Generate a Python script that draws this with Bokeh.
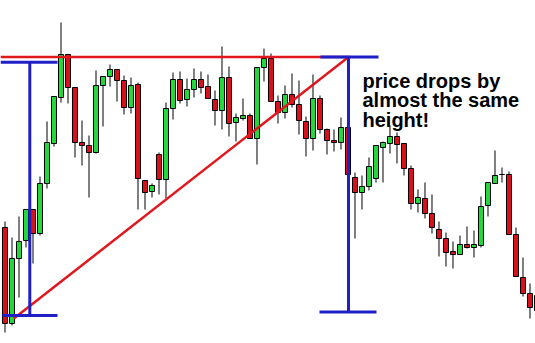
from bokeh.plotting import figure
from bokeh.models import Range1d, ColumnDataSource
from bokeh.core.properties import value
from bokeh.embed import file_html
from bokeh.resources import INLINE

# ---- candle data (price units) ----
opens = [116, 20, 85, 103, 134, 110, 160, 200, 246, 289, 256, 201, 198, 191, 258, 267, 274, 263, 236, 259,
         163, 152, 189, 164, 235, 264, 244, 254, 264, 257, 244, 233, 266, 221, 225, 228, 205, 276, 285, 242,
         231, 249, 239, 222, 205, 245, 214, 203, 201, 216, 166, 151, 157, 165, 196, 200, 207, 200, 175, 140,
         145, 130, 114, 105, 92, 89, 99, 96, 98, 138, 160, 169, 169, 109, 66, 50, 48]
closes = [20, 85, 102, 134, 110, 160, 201, 247, 289, 256, 201, 198, 191, 258, 267, 274, 263, 236, 258, 165,
          151, 158, 164, 235, 264, 243, 254, 264, 256, 245, 233, 266, 220, 226, 228, 205, 276, 285, 242, 231,
          249, 239, 223, 205, 245, 214, 203, 201, 216, 169, 151, 157, 177, 198, 201, 207, 199, 175, 140, 146,
          130, 116, 105, 91, 89, 99, 96, 99, 137, 161, 168, 169, 109, 67, 50, 36, 33]
highs = [122, 106, 127, 134, 134, 167, 222, 247, 321, 289, 256, 223, 208, 273, 267, 279, 274, 268, 266, 261,
         163, 160, 191, 241, 271, 272, 265, 275, 272, 269, 253, 297, 277, 230, 245, 230, 276, 295, 290, 248,
         258, 270, 263, 227, 269, 248, 215, 214, 226, 216, 171, 168, 186, 198, 202, 218, 211, 200, 178, 154,
         161, 149, 122, 111, 102, 108, 117, 113, 147, 161, 193, 176, 172, 116, 86, 60, 99]
lows = [11, 18, 46, 96, 80, 108, 155, 197, 241, 240, 186, 178, 146, 190, 217, 257, 242, 229, 230, 134,
        134, 146, 149, 145, 224, 240, 237, 246, 250, 245, 218, 214, 207, 202, 223, 205, 179, 262, 242, 220,
        225, 236, 209, 187, 193, 210, 189, 192, 194, 151, 105, 134, 153, 161, 161, 190, 180, 168, 134, 131,
        125, 110, 87, 77, 75, 89, 95, 86, 96, 127, 160, 161, 109, 67, 47, 25, 23]

idx = list(range(len(opens)))
up = [c >= o for o, c in zip(opens, closes)]

GREEN = "#22d83a"
RED = "#d8101c"
BLUE = "#1f1fc8"
LINE_RED = "#e0181e"

src = ColumnDataSource(dict(
    x=idx,
    top=[max(o, c) for o, c in zip(opens, closes)],
    bottom=[min(o, c) for o, c in zip(opens, closes)],
    high=highs, low=lows,
    color=[GREEN if u else RED for u in up],
))

# ---- annotation levels ----
resistance = 286.5
label_lines = ["price drops by", "almost the same", "height!"]

p = figure(width=535, height=343, output_backend="svg", toolbar_location=None,
           x_range=Range1d(-0.643, 75.786), y_range=Range1d(0, 343),
           min_border=0, outline_line_color=None, background_fill_color="white",
           border_fill_color="white")
p.axis.visible = False
p.grid.visible = False

p.segment(x0="x", y0="low", x1="x", y1="high", source=src, line_color="black", line_width=1)
p.vbar(x="x", top="top", bottom="bottom", width=0.72, source=src,
       fill_color="color", line_color="black", line_width=1)

# red resistance line and rising trendline
p.line(x=[-0.643, 49.4], y=[resistance, resistance], line_color=LINE_RED, line_width=2.5)
p.line(x=[1.26, 49.07], y=[25, resistance], line_color=LINE_RED, line_width=2.5)

# left blue measuring bracket
p.line(x=[-0.643, 7.5], y=[281.3, 281.3], line_color=BLUE, line_width=3)
p.line(x=[3.54, 3.54], y=[281.3, 28], line_color=BLUE, line_width=3)
p.line(x=[-0.36, 7.5], y=[28, 28], line_color=BLUE, line_width=3)

# right blue measuring bracket
p.line(x=[45.07, 53.36], y=[resistance, resistance], line_color=BLUE, line_width=3)
p.line(x=[49.07, 49.07], y=[resistance, 31.5], line_color=BLUE, line_width=3)
p.line(x=[44.93, 53.07], y=[31.5, 31.5], line_color=BLUE, line_width=3)

p.text(x=[51.07] * 3, y=[263, 243.5, 224], text=label_lines,
       text_font=value("Liberation Sans"), text_font_style="bold",
       text_font_size="20px", text_color="black", text_baseline="alphabetic",
       text_align="left")

open("out.html", "w").write(file_html(p, INLINE))
